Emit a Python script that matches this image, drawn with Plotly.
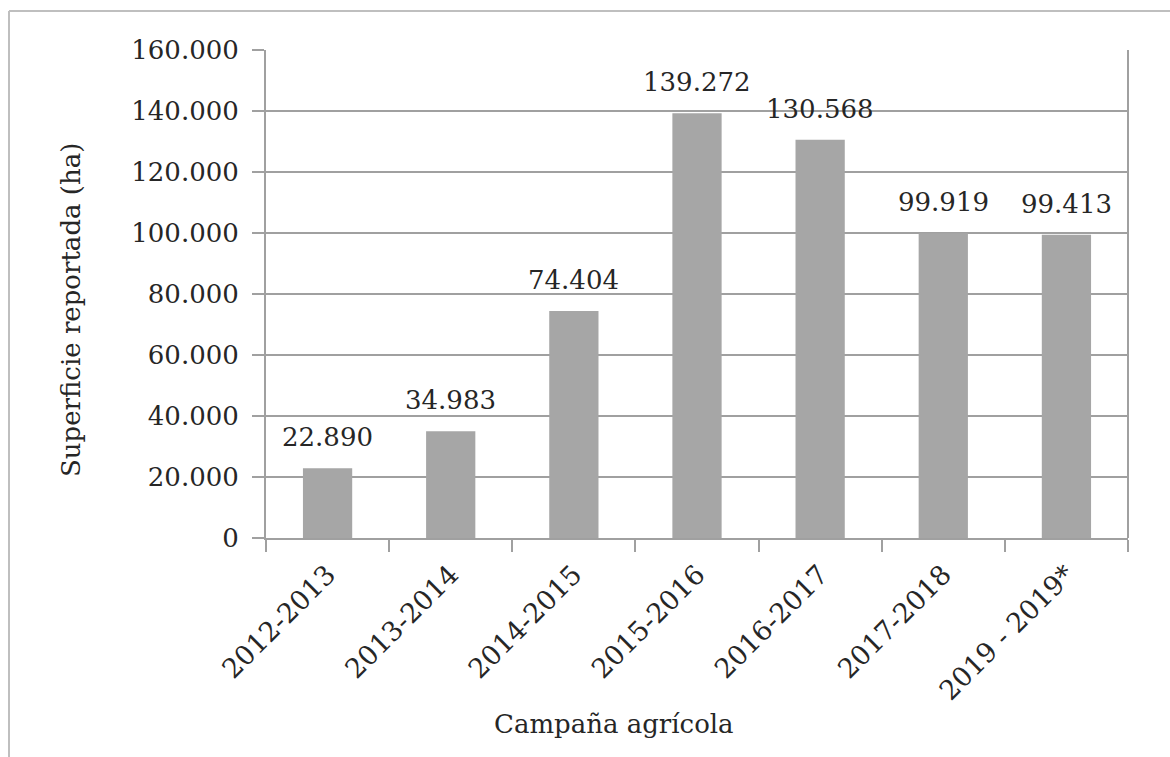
import plotly.graph_objects as go

categories = ["2012-2013", "2013-2014", "2014-2015", "2015-2016", "2016-2017", "2017-2018", "2019 - 2019*"]
superficie_ha = [22890, 34983, 74404, 139272, 130568, 99919, 99413]
y_ticks = [0, 20000, 40000, 60000, 80000, 100000, 120000, 140000, 160000]

FONT = "DejaVu Serif"
TXT = "#262626"
GRID = "#A0A0A0"

fig = go.Figure()
fig.add_trace(go.Bar(
    x=categories, y=superficie_ha,
    marker=dict(color="#A6A6A6", line=dict(width=0)),
    width=0.4,
    hoverinfo="x+y",
))

for c, v in zip(categories, superficie_ha):
    fig.add_annotation(
        x=c, y=v, xref="x", yref="y",
        text=f"{v:,}".replace(",", "."),
        showarrow=False, yanchor="bottom", yshift=14,
        font=dict(family=FONT, size=26, color=TXT),
    )

W, H = 1170, 757
L, R, T, B = 266, 42, 50, 219

fig.update_layout(
    width=W, height=H,
    margin=dict(l=L, r=R, t=T, b=B),
    paper_bgcolor="white", plot_bgcolor="white",
    separators=",.",
    showlegend=False,
    font=dict(family=FONT, size=26, color=TXT),
    xaxis=dict(
        type="category",
        tickson="boundaries",
        ticks="outside", ticklen=12, tickcolor=GRID, tickwidth=2,
        showline=True, linecolor=GRID, linewidth=2,
        mirror=False,
        showgrid=False,
        tickangle=-45,
        ticklabelstandoff=8,
        tickfont=dict(family=FONT, size=27, color=TXT),
    ),
    yaxis=dict(
        range=[0, 160000],
        tickvals=y_ticks,
        tickformat=",d",
        ticks="outside", ticklen=12, tickcolor=GRID, tickwidth=2,
        showline=True, linecolor=GRID, linewidth=2,
        showgrid=True, gridcolor=GRID, gridwidth=2,
        zeroline=False,
        tickfont=dict(family=FONT, size=26, color=TXT),
        ticklabelstandoff=8,
    ),
)

# right border of plot area
fig.add_shape(type="line", xref="paper", yref="paper", x0=1, x1=1, y0=0, y1=1,
              line=dict(color=GRID, width=2))

# outer chart frame (top and left visible)
fig.add_shape(type="line", xref="paper", yref="paper",
              x0=(9 - L) / (W - L - R), x1=(W - L) / (W - L - R),
              y0=(H - B - 11) / (H - T - B), y1=(H - B - 11) / (H - T - B),
              line=dict(color="#BFBFBF", width=2))
fig.add_shape(type="line", xref="paper", yref="paper",
              x0=(9 - L) / (W - L - R), x1=(9 - L) / (W - L - R),
              y0=(H - B - 11) / (H - T - B), y1=-B / (H - T - B),
              line=dict(color="#BFBFBF", width=2))

# axis titles
fig.add_annotation(text="Superficie reportada (ha)", xref="paper", yref="paper",
                   x=(71 - L) / (W - L - R), y=(H - B - 310) / (H - T - B),
                   textangle=-90, showarrow=False, xanchor="center", yanchor="middle",
                   font=dict(family=FONT, size=26, color=TXT))
fig.add_annotation(text="Campaña agrícola", xref="paper", yref="paper",
                   x=(614 - L) / (W - L - R), y=(H - B - 724) / (H - T - B),
                   showarrow=False, xanchor="center", yanchor="middle",
                   font=dict(family=FONT, size=26, color=TXT))

fig.write_html("out.html")
